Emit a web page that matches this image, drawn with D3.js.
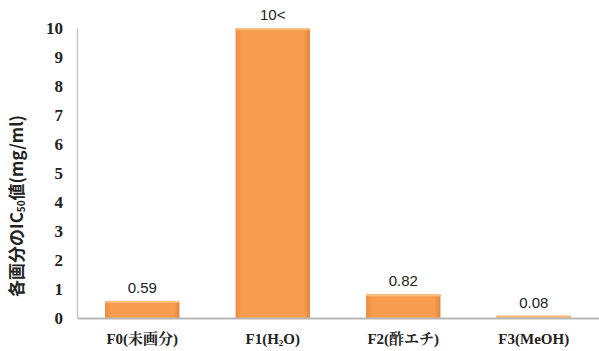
<!DOCTYPE html>
<html><head><meta charset="utf-8">
<script src="https://cdn.jsdelivr.net/npm/d3@7"></script>
<style>body{margin:0;background:#fff}</style>
</head><body>
<svg id="c" width="599" height="351"></svg>
<script>
const categories = ["F0(未画分)", "F1(H2O)", "F2(酢エチ)", "F3(MeOH)"];
const values = [0.59, 10, 0.82, 0.08];
const valueLabels = ["0.59", "10<", "0.82", "0.08"];
const yTicks = [0,1,2,3,4,5,6,7,8,9,10];
const yTitleParts = ["各画分のIC", "50", "値(mg/ml)"];

const svg = d3.select("#c");
const x = d3.scaleBand().domain(categories).range([77, 599]).paddingInner(0.43).paddingOuter(0.215);
const y = d3.scaleLinear().domain([0, 10]).range([318, 28]);

const defs = svg.append("defs");
const g = defs.append("linearGradient").attr("id","bg").attr("x1",0).attr("x2",1).attr("y1",0).attr("y2",0);
g.append("stop").attr("offset","0%").attr("stop-color","#EE8C3E");
g.append("stop").attr("offset","8%").attr("stop-color","#F89C50");
g.append("stop").attr("offset","92%").attr("stop-color","#F89C50");
g.append("stop").attr("offset","100%").attr("stop-color","#E0853A");

const serif = "'Liberation Serif', 'Noto Serif CJK JP', 'Noto Sans CJK JP', serif";

const yAxis = svg.append("g").attr("transform","translate(77,0)")
  .call(d3.axisLeft(y).tickValues(yTicks).tickSize(0).tickPadding(14));
yAxis.select(".domain").attr("stroke","#c8c8c8").attr("stroke-width",1.5);
yAxis.selectAll("text").style("font-family",serif).style("font-weight","bold")
  .style("font-size","17px").attr("fill","#222");

svg.selectAll("rect.bar").data(values).join("rect").attr("class","bar")
  .attr("x",(d,i)=>x(categories[i])).attr("width",x.bandwidth())
  .attr("y",d=>y(d)).attr("height",d=>y(0)-y(d))
  .attr("fill","url(#bg)");
svg.selectAll("rect.top").data(values).join("rect").attr("class","top")
  .attr("x",(d,i)=>x(categories[i])).attr("width",x.bandwidth())
  .attr("y",d=>y(d)).attr("height",2)
  .attr("fill","#FBC080");

const xAxis = svg.append("g").attr("transform","translate(0,318)")
  .call(d3.axisBottom(x).tickSize(0).tickPadding(15));
xAxis.select(".domain").attr("stroke","#b8b8b8").attr("stroke-width",2);
xAxis.selectAll("text").style("font-family",serif).style("font-weight","bold")
  .style("font-size","15px").attr("fill","#222")
  .each(function(d){
    const t = d3.select(this);
    if (d === "F1(H2O)") {
      t.text(null);
      t.append("tspan").text("F1(H");
      t.append("tspan").attr("font-size","9px").attr("dy","2").text("2");
      t.append("tspan").attr("dy","-2").text("O)");
    }
  });

svg.selectAll("text.val").data(values).join("text").attr("class","val")
  .attr("x",(d,i)=>x(categories[i])+x.bandwidth()/2).attr("y",d=>y(d)-8)
  .attr("text-anchor","middle").style("font-family","'Liberation Sans', Arial, sans-serif")
  .style("font-size","15px").attr("fill","#222")
  .text((d,i)=>valueLabels[i]);

const tt = svg.append("text").attr("transform","translate(23,206) rotate(-90)")
  .attr("text-anchor","middle").style("font-family","'Noto Sans CJK JP', sans-serif")
  .style("font-weight","bold").style("font-size","17px").attr("fill","#222");
tt.append("tspan").text(yTitleParts[0]);
tt.append("tspan").style("font-size","10px").attr("dy","2").text(yTitleParts[1]);
tt.append("tspan").attr("dy","-2").text(yTitleParts[2]);
</script>
</body></html>
